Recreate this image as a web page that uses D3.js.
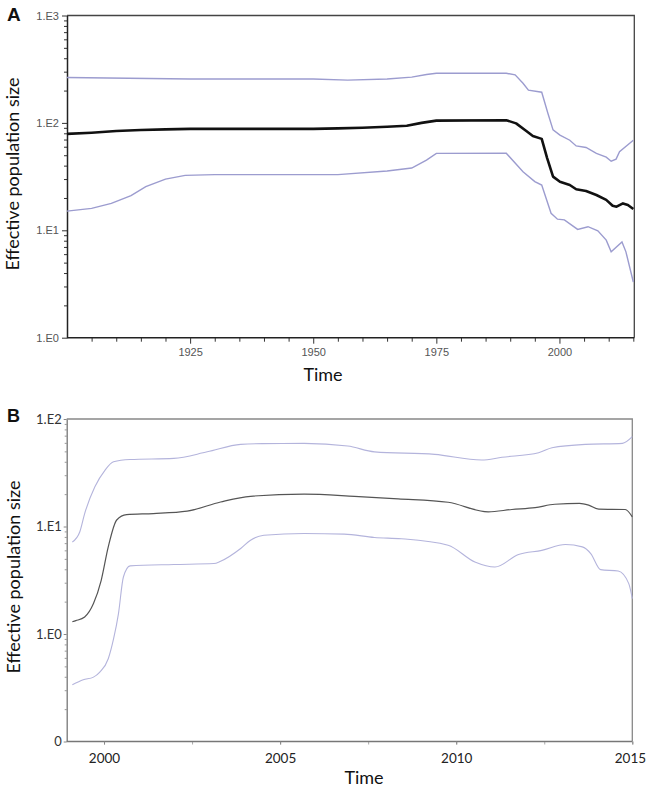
<!DOCTYPE html>
<html><head><meta charset="utf-8">
<script src="https://cdn.jsdelivr.net/npm/d3@7"></script>
<style>body{margin:0;background:#fff}svg{display:block}</style>
</head><body>
<svg id="c" width="646" height="788"></svg>
<script>
// ---------- Panel A data ----------
const aMedianYears = [1900,1905,1910,1915,1920,1925,1950,1955,1960,1965,1969,1972,1975,1989.2,1991.2,1993.2,1994.6,1996.4,1997.5,1998.7,2000.1,2002.1,2003.4,2005.4,2007.5,2009.5,2010.8,2011.6,2012.9,2013.9,2015];
const aMedian      = [79,81,84,86,87,88,88,89,90,92,94,100,105,106,99,84.5,75.5,71,47,31.6,28.3,26.4,24.1,23.2,21.3,19.2,16.9,16.6,17.8,17.2,15.8];
const aUpperYears  = [1900,1925,1950,1957,1965,1970,1973,1975,1989.2,1991,1992.6,1993.7,1996.4,1997.65,1998.7,2000.1,2002.1,2003.4,2005.4,2007.5,2009.5,2010.5,2011.5,2012.2,2015];
const aUpper       = [265,256,256,250,256,267,282,290,290,280,234,202,193,123,86,77,69,61,59,52,48,44,46,54,69];
const aLowerYears  = [1900,1905,1909,1913,1916,1920,1924,1930,1955,1965,1970,1973,1975,1989.2,1992.6,1995,1996.4,1998.3,1999.6,2001,2003.7,2005.8,2007.8,2009.5,2010.5,2012.7,2013.5,2015];
const aLower       = [15.1,16,17.8,21,25.5,30,32.5,33,33,35.7,38,45,52,52.2,35.1,28.4,26.4,14.4,12.7,12.5,10.2,10.8,9.9,8.1,6.3,7.8,6.3,3.3];
const aXTicks      = [1925,1950,1975,2000];
const aYTicks      = [1,10,100,1000];
const aYTickLabels = ["1.E0","1.E1","1.E2","1.E3"];

// ---------- Panel B data ----------
const bMedianYears = [1999.1,1999.2,1999.45,1999.7,1999.92,2000.12,2000.36,2000.64,2001.4,2002.36,2003.31,2004.16,2005.68,2007.11,2008.35,2009.77,2010.91,2011.58,2012.24,2012.8,2013.5,2013.76,2014.05,2014.8,2015.0];
const bMedian      = [1.3,1.33,1.44,1.92,3.16,6.46,11.5,12.9,13.2,13.9,16.9,19.1,20.0,19.1,18.1,16.8,13.7,14.4,15.0,16.1,16.4,15.8,14.5,14.4,12.3];
const bUpperYears  = [1999.1,1999.31,1999.45,1999.74,2000.03,2000.27,2000.74,2001.98,2002.93,2003.88,2004.5,2005.68,2006.92,2007.68,2009.39,2010.72,2011.3,2012.34,2012.72,2013.67,2014.72,2015.0];
const bUpper       = [7.18,8.9,13.2,23.4,33.5,40,42,43,49.5,58.1,59,59.3,56,49.5,46.9,41.5,44,48.5,54,58.1,59.3,68.4];
const bLowerYears  = [1999.1,1999.41,1999.7,1999.88,2000.12,2000.27,2000.41,2000.55,2000.74,2001.98,2003.12,2003.31,2003.88,2004.16,2004.54,2005.68,2006.82,2007.68,2008.44,2009.77,2010.53,2011.1,2011.77,2012.43,2013.1,2013.58,2013.82,2014.1,2014.6,2014.9,2015.0];
const bLower       = [0.337,0.375,0.397,0.442,0.589,0.9,1.55,3.39,4.3,4.43,4.52,4.75,6.24,7.45,8.3,8.6,8.5,7.9,7.7,6.7,4.68,4.2,5.5,6.0,6.8,6.46,5.6,3.97,3.85,2.94,2.13];
const bXTicks      = [2000,2005,2010,2015];
const bYTicks      = [0.1,1,10,100];
const bYTickLabels = ["0","1.E0","1.E1","1.E2"];

const svg = d3.select("#c");
const zip = (xs, ys) => xs.map((x,i)=>[x, ys[i]]);

// ================= Panel A =================
{
  const L=67, R=634.3, T=15.5, B=337.7;
  const x = d3.scaleLinear().domain([1900,2015.2]).range([L,R]);
  const y = d3.scaleLog().domain([1,1000]).range([B,T]);
  const g = svg.append("g");
  g.append("path").attr("d",`M${L},${T}H${R}V${B}`).attr("fill","none").attr("stroke","#444").attr("stroke-width",1.3);
  const minor = d3.range(1905,2016,5).filter(v=>!aXTicks.includes(v));
  g.append("g").attr("transform",`translate(0,${B})`)
    .call(d3.axisBottom(x).tickValues(minor).tickSize(4).tickFormat(""))
    .call(s=>{s.select(".domain").remove(); s.selectAll("line").attr("stroke","#333");});
  const xa = g.append("g").attr("transform",`translate(0,${B})`)
    .call(d3.axisBottom(x).tickValues(aXTicks).tickSize(6).tickSizeOuter(0).tickFormat(d3.format("d")).tickPadding(5));
  xa.select(".domain").attr("stroke","#222").attr("stroke-width",1.5).attr("d",`M${L},0H${R}`);
  xa.selectAll("line").attr("stroke","#333");
  xa.selectAll("text").attr("font-family","Liberation Sans, Arial").attr("font-size",11).attr("fill","#555");
  const yMinor=[];
  [1,10,100].forEach(d=>{for(let k=2;k<10;k++) yMinor.push(d*k);});
  g.append("g").attr("transform",`translate(${L},0)`)
    .call(d3.axisLeft(y).tickValues(yMinor).tickSize(3).tickFormat(""))
    .call(s=>{s.select(".domain").remove(); s.selectAll("line").attr("stroke","#333");});
  const ya = g.append("g").attr("transform",`translate(${L},0)`)
    .call(d3.axisLeft(y).tickValues(aYTicks).tickSize(5).tickSizeOuter(0).tickFormat((d,i)=>aYTickLabels[i]).tickPadding(3));
  ya.select(".domain").attr("stroke","#222").attr("stroke-width",1.5);
  ya.selectAll("line").attr("stroke","#333");
  ya.selectAll("text").attr("font-family","Liberation Sans, Arial").attr("font-size",11).attr("fill","#555");

  const line = d3.line().x(d=>x(d[0])).y(d=>y(d[1]));
  g.append("path").attr("d",line(zip(aUpperYears,aUpper))).attr("fill","none").attr("stroke","#9c9ccf").attr("stroke-width",1.4);
  g.append("path").attr("d",line(zip(aLowerYears,aLower))).attr("fill","none").attr("stroke","#9c9ccf").attr("stroke-width",1.4);
  g.append("path").attr("d",line(zip(aMedianYears,aMedian))).attr("fill","none").attr("stroke","#111").attr("stroke-width",2.6).attr("stroke-linejoin","round");

  svg.append("text").attr("x",323).attr("y",381).attr("text-anchor","middle")
    .attr("font-family","Lato").attr("font-size",18).attr("fill","#111").text("Time");
  svg.append("text").attr("transform","translate(19,174) rotate(-90)").attr("text-anchor","middle")
    .attr("font-family","Lato").attr("font-size",18).attr("fill","#111").text("Effective population size");
  svg.append("text").attr("x",7).attr("y",21).attr("font-family","Liberation Sans, Arial").attr("font-weight","bold")
    .attr("font-size",19).attr("fill","#111").text("A");
}

// ================= Panel B =================
{
  const L=66.7, R=632.3, T=419, B=741.5;
  const x = d3.scaleLinear().domain([1998.94,2015]).range([L,R]);
  const y = d3.scaleLog().domain([0.1,100]).range([B,T]);
  const g = svg.append("g");
  g.append("path").attr("d",`M${L},${T}H${R}V${B}`).attr("fill","none").attr("stroke","#888").attr("stroke-width",1.3);
  const minor = d3.range(2000,2015.1,2.5);
  g.append("g").attr("transform",`translate(0,${B})`)
    .call(d3.axisBottom(x).tickValues(minor).tickSize(3).tickFormat(""))
    .call(s=>{s.select(".domain").remove(); s.selectAll("line").attr("stroke","#aaa");});
  const xa = g.append("g").attr("transform",`translate(0,${B})`)
    .call(d3.axisBottom(x).tickValues(bXTicks).tickSize(3).tickSizeOuter(0).tickFormat(d3.format("d")).tickPadding(9));
  xa.select(".domain").attr("stroke","#777").attr("stroke-width",1.3).attr("d",`M${L},0H${R}`);
  xa.selectAll("line").attr("stroke","#888");
  xa.selectAll("text").attr("font-family","Lato").attr("font-size",13.5).attr("fill","#222");
  xa.selectAll("text").filter(d=>d===2015).attr("text-anchor","end").attr("dx",13.3);
  const yMinor=[];
  [0.1,1,10].forEach(d=>{for(let k=2;k<10;k++) yMinor.push(d*k);});
  g.append("g").attr("transform",`translate(${L},0)`)
    .call(d3.axisLeft(y).tickValues(yMinor).tickSize(2).tickFormat(""))
    .call(s=>{s.select(".domain").remove(); s.selectAll("line").attr("stroke","#999");});
  const ya = g.append("g").attr("transform",`translate(${L},0)`)
    .call(d3.axisLeft(y).tickValues(bYTicks).tickSize(3).tickSizeOuter(0).tickFormat((d,i)=>bYTickLabels[i]).tickPadding(2));
  ya.select(".domain").attr("stroke","#777").attr("stroke-width",1.3);
  ya.selectAll("line").attr("stroke","#888");
  ya.selectAll("text").attr("font-family","Lato").attr("font-size",13).attr("fill","#333");

  const line = d3.line().x(d=>x(d[0])).y(d=>y(d[1])).curve(d3.curveMonotoneX);
  g.append("path").attr("d",line(zip(bUpperYears,bUpper))).attr("fill","none").attr("stroke","#b4b4dc").attr("stroke-width",1.1);
  g.append("path").attr("d",line(zip(bLowerYears,bLower))).attr("fill","none").attr("stroke","#b4b4dc").attr("stroke-width",1.1);
  g.append("path").attr("d",line(zip(bMedianYears,bMedian))).attr("fill","none").attr("stroke","#555").attr("stroke-width",1.2);

  svg.append("text").attr("x",364).attr("y",784).attr("text-anchor","middle")
    .attr("font-family","Lato").attr("font-size",18).attr("fill","#111").text("Time");
  svg.append("text").attr("transform","translate(20,577) rotate(-90)").attr("text-anchor","middle")
    .attr("font-family","Lato").attr("font-size",18).attr("fill","#111").text("Effective population size");
  svg.append("text").attr("x",7).attr("y",422).attr("font-family","Liberation Sans, Arial").attr("font-weight","bold")
    .attr("font-size",18).attr("fill","#111").text("B");
}
</script>
</body></html>
